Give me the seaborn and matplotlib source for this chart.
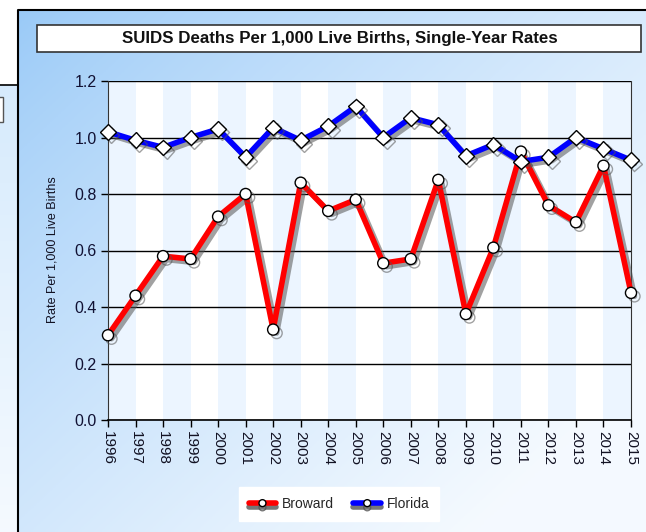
import numpy as np
import pandas as pd
import matplotlib
matplotlib.use("Agg")
import matplotlib.pyplot as plt
import matplotlib.patheffects as pe
from matplotlib.patches import Rectangle
from matplotlib.lines import Line2D
import seaborn as sns

# ---------------------------------------------------------
# Data
# ---------------------------------------------------------
years = list(range(1996, 2016))
broward = [0.30, 0.44, 0.58, 0.57, 0.72, 0.80, 0.32, 0.84, 0.74, 0.78,
           0.555, 0.57, 0.85, 0.375, 0.61, 0.95, 0.76, 0.70, 0.90, 0.45]
florida = [1.02, 0.99, 0.965, 1.00, 1.03, 0.93, 1.035, 0.99, 1.04, 1.11,
           1.00, 1.07, 1.045, 0.935, 0.975, 0.915, 0.93, 1.00, 0.96, 0.92]
series_names = ["Broward", "Florida"]
series_colors = ["#ff0000", "#0000ff"]
yticks = [0.0, 0.2, 0.4, 0.6, 0.8, 1.0, 1.2]
title = "SUIDS Deaths Per 1,000 Live Births, Single-Year Rates"
ylabel = "Rate Per 1,000 Live Births"

df = pd.DataFrame({
    "Year": years * 2,
    "Rate": broward + florida,
    "Area": [series_names[0]] * len(years) + [series_names[1]] * len(years),
})

sns.set_style("white")
plt.rcParams["font.family"] = ["Liberation Sans", "DejaVu Sans"]

W, H = 646, 532
fig = plt.figure(figsize=(W / 100, H / 100), dpi=100)
fig.patch.set_facecolor("white")

# ---------------------------------------------------------
# Background panel (gradient) drawn in pixel coordinates
# ---------------------------------------------------------
bg = fig.add_axes([0, 0, 1, 1])
bg.set_xlim(0, W)
bg.set_ylim(H, 0)
bg.axis("off")

gx, gy = np.meshgrid(np.linspace(0, 1, 200), np.linspace(0, 1, 200))
t = np.clip(0.62 * gx + 0.55 * gy, 0, 1) ** 0.8
c0 = np.array([0.60, 0.79, 0.97])
c1 = np.array([0.96, 0.98, 1.00])
grad = c0[None, None, :] * (1 - t[..., None]) + c1[None, None, :] * t[..., None]
bg.imshow(grad, extent=(18, W, H, 10), aspect="auto", zorder=0)

# partial neighbouring panel on the far left
t2 = np.linspace(0, 1, 100)[:, None, None]
strip = np.array([0.84, 0.92, 0.99]) * (1 - t2) + np.array([0.96, 0.98, 1.0]) * t2
bg.imshow(np.repeat(strip, 2, axis=1), extent=(0, 18, H, 85), aspect="auto", zorder=0)
bg.plot([0, 18], [85, 85], color="black", lw=1.2, zorder=2)
bg.add_patch(Rectangle((-2, 97), 5, 25, facecolor="white", edgecolor="#555555", lw=1, zorder=2))

# border of main panel
bg.plot([18, 18, W], [H, 10, 10], color="black", lw=1.5, zorder=2)

# title box
bg.add_patch(Rectangle((37, 25), 604, 27, facecolor="white", edgecolor="#333333", lw=1.2, zorder=2))
bg.text(340, 39, title, ha="center", va="center", fontsize=12.2, fontweight="bold", color="#111111", zorder=3)
bg.text(53, 250, ylabel, ha="center", va="center", rotation=90, fontsize=9, color="#111122", zorder=3)

# ---------------------------------------------------------
# Main plot
# ---------------------------------------------------------
ax = fig.add_axes([108 / W, 1 - 420 / H, (631 - 108) / W, (420 - 81) / H])
ax.set_facecolor("white")
for i in range(0, len(years) - 1, 2):
    ax.axvspan(years[i], years[i + 1], color="#ecf5ff", lw=0, zorder=0)

shadow = [pe.SimpleLineShadow(offset=(2.5, -2.5), shadow_color="#555555", alpha=0.55), pe.Normal()]
sns.lineplot(data=df, x="Year", y="Rate", hue="Area", style="Area",
             palette=dict(zip(series_names, series_colors)),
             markers={"Broward": "o", "Florida": "D"}, dashes=False,
             linewidth=4, markersize=8, markerfacecolor="white",
             markeredgecolor="black", markeredgewidth=1,
             path_effects=shadow, clip_on=False, ax=ax, legend=False, zorder=3)

ax.set_xlim(years[0], years[-1])
ax.set_ylim(yticks[0], yticks[-1])
ax.set_xticks(years)
ax.set_xticklabels([str(y) for y in years], rotation=270, fontsize=11, color="#111122")
ax.set_yticks(yticks)
ax.set_yticklabels([f"{v:.1f}" for v in yticks], fontsize=11.5, color="#111133")
ax.set_xlabel("")
ax.set_ylabel("")
ax.yaxis.grid(True, color="black", lw=1)
ax.xaxis.grid(False)
ax.set_axisbelow(True)
ax.tick_params(axis="both", direction="out", length=5, width=1, color="black", pad=3, left=True, bottom=True)

ax.spines["top"].set_visible(False)
for side in ["left", "right"]:
    ax.spines[side].set_linestyle((0, (1, 1)))
    ax.spines[side].set_linewidth(0.8)
    ax.spines[side].set_color("#333333")
ax.spines["bottom"].set_color("black")
ax.spines["bottom"].set_linewidth(1.2)

# legend: both entries use a small round marker, as in the original
leg_shadow = [pe.SimpleLineShadow(offset=(0, -3), shadow_color="#555555", alpha=0.8), pe.Normal()]
handles = [Line2D([], [], color=c, lw=4, marker="o", markersize=5, markerfacecolor="white",
                  markeredgecolor="black", markeredgewidth=1, path_effects=leg_shadow)
           for c in series_colors]
leg = fig.legend(handles, series_names, loc="center", bbox_to_anchor=(339 / W, 1 - 504 / H),
                 ncol=2, frameon=True, fancybox=False, facecolor="white", edgecolor="white",
                 fontsize=10, handlelength=2.0, columnspacing=1.4,
                 handletextpad=0.4, borderpad=0.7, framealpha=1)

fig.savefig("out.png", dpi=100)
